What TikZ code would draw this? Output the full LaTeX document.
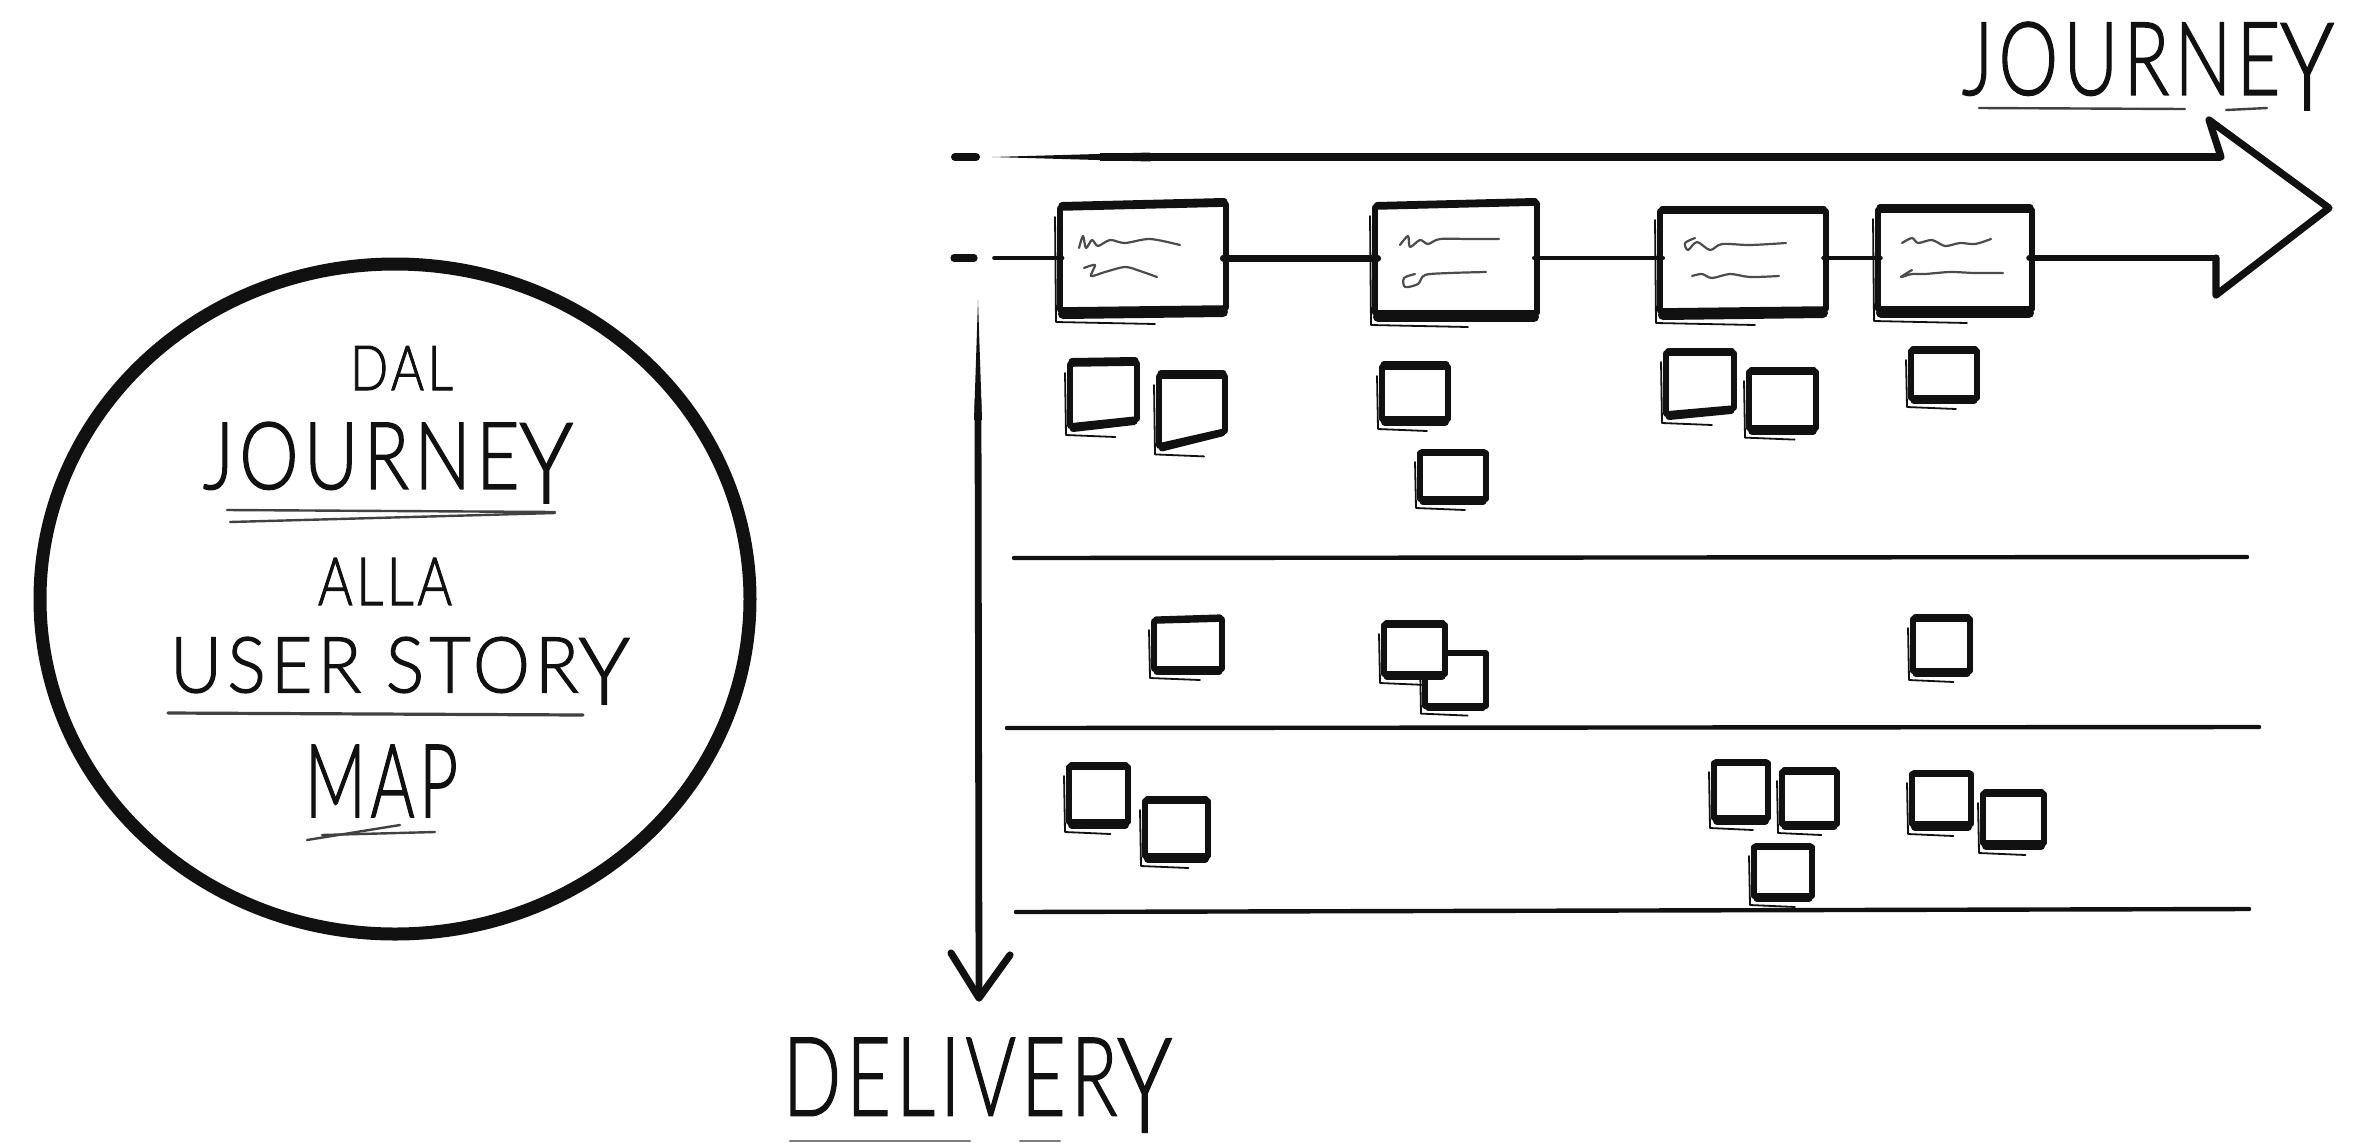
\documentclass[tikz,border=0pt]{standalone}
\usepackage{graphicx}
\usepackage{fontspec}
\usetikzlibrary{shapes.geometric}
\newfontfamily\hand[LetterSpace=7,FakeBold=1.6]{Lato Light}
\definecolor{ink}{HTML}{111111}
\tikzset{
  x=0.5pt,y=-0.5pt,
  ink stroke/.style={draw=ink,line cap=round,line join=round},
  ghost/.style={ink stroke,line width=0.9pt},
  scribble/.style={ink stroke,draw=ink!75,line width=1.1pt},
  label text/.style={inner sep=0pt,outer sep=0pt,text=ink},
  rule line/.style={ink stroke,line width=2.2pt},
  under line/.style={ink stroke,draw=ink!80,line width=1.2pt},
}
% name, inner left, right, top, bottom, top-right rise, bottom-left drop, top w, bottom w (pt; 1pt = 2 picture px)
\newcommand{\sketchbox}[9]{%
  \node[inner sep=0pt,minimum width={(#3-#2)*0.5pt},minimum height={(#5-#4)*0.5pt}] (#1) at ({(#2+#3)/2},{(#4+#5)/2}) {};
  \draw[ink stroke,line width=2.8pt] ({#2-3},{#4-1}) -- ({#3+3},{#4-#6-1}) -- ({#3+3},{#5+1}) -- ({#2-3},{#5+#7+1}) -- cycle;
  \draw[ink stroke,line width=#8pt] ({#2-1},{#4-#8}) -- ({#3+1},{#4-#6-#8});
  \draw[ink stroke,line width=#9pt] ({#2},{#5+#7+#9}) -- ({#3},{#5+#9});
  \draw[ghost] ({#2-8},{#4+8}) -- ({#2-7},{#5+#7+2*#9+3}) -- ({(#2+#3)/2+12},{#5+#7+2*#9+5});
}
% name, left, right, top, bottom, text (bounding box of the lettering)
\newcommand{\lettering}[6]{%
  \node[label text] (#1) at ({(#2+#3)/2},{(#4+#5)/2})
    {\resizebox*{\dimexpr(#3pt-#2pt)/2\relax}{\dimexpr(#5pt-#4pt)/2\relax}{\hand #6}};
}
\newcommand{\lowY}{\raisebox{-0.15em}{\scalebox{1.2}{Y}}}
\begin{document}
\begin{tikzpicture}
\useasboundingbox (0,0) rectangle (2357,1142);
\fill[white] (0,0) rectangle (2357,1142);

% circle with title
\node[draw=ink,line width=6.5pt,ellipse,inner sep=0pt,minimum width=355pt,minimum height=335pt] (circle) at (395,599) {};
\lettering{dal}{350}{453}{346}{390}{DAL}
\lettering{journeyA}{203}{573}{422}{503}{JOURNE\lowY}
\lettering{alla}{318}{452}{558}{605}{ALLA}
\lettering{userstory}{170}{630}{637}{704}{USER STOR\lowY}
\lettering{map}{305}{458}{745}{817}{MAP}
\draw[under line] (227,510) -- (555,512);
\draw[under line] (230,522) -- (555,513);
\draw[under line,line width=1.6pt] (168,713) -- (583,715);
\draw[under line] (307,840) -- (400,825);
\draw[under line] (322,835) -- (435,832);

% labels of the axes
\lettering{journeyB}{1962}{2334}{22}{110}{JOURNE\lowY}
\draw[under line] (1979,108) -- (2185,109);
\draw[under line] (2226,110) -- (2267,108);
\lettering{delivery}{783}{1172}{1038}{1132}{DELIVER\lowY}
\draw[under line,draw=ink!55] (790,1141) -- (970,1141);
\draw[under line,draw=ink!55] (1020,1141) -- (1060,1141);

% activity cards
\sketchbox{cardA}{1063}{1223}{209}{307}{4}{2}{3.5}{5}
\sketchbox{cardB}{1378}{1534}{208}{312}{4}{0}{3}{5}
\sketchbox{cardC}{1663}{1823}{212}{308}{0}{2}{2.8}{5}
\sketchbox{cardD}{1881}{2029}{211}{308}{0}{0}{3.5}{5}

% scribbles on the cards
\draw[scribble] plot[smooth] coordinates {(1079,248) (1083,236) (1086,248) (1092,240) (1098,246) (1110,240) (1125,243) (1150,239) (1180,245)};
\draw[scribble] plot[smooth] coordinates {(1084,268) (1095,265) (1091,276) (1105,272) (1125,267) (1140,271) (1157,277)};
\draw[scribble] plot[smooth] coordinates {(1400,245) (1408,236) (1410,247) (1420,240) (1428,244) (1440,239) (1470,239) (1499,239)};
\draw[scribble] plot[smooth] coordinates {(1415,274) (1404,278) (1405,287) (1418,284) (1425,275) (1450,273) (1486,272)};
\draw[scribble] plot[smooth] coordinates {(1695,238) (1685,243) (1688,250) (1697,242) (1710,250) (1722,244) (1750,245) (1786,243)};
\draw[scribble] plot[smooth] coordinates {(1692,276) (1702,274) (1712,278) (1730,274) (1750,277) (1779,276)};
\draw[scribble] plot[smooth] coordinates {(1902,243) (1912,238) (1918,243) (1932,240) (1945,246) (1960,243) (1975,244) (1991,239)};
\draw[scribble] plot[smooth] coordinates {(1912,270) (1901,277) (1912,274) (1925,274) (1950,272) (1975,273) (2003,273)};

% backbone line and big arrow
\coordinate (topdash) at (955,157);
\coordinate (topdashend) at (976,157);
\coordinate (topstart) at (992,157);
\coordinate (topend) at (2221,157);
\coordinate (barbtop) at (2209,120);
\coordinate (tip) at (2329,208);
\coordinate (barbbottom) at (2216,295);
\coordinate (midend) at (2216,258);
\coordinate (midstart) at (994,258);
\coordinate (middash) at (954,258);
\coordinate (middashend) at (974,258);
\draw[ink stroke,line width=4pt] (topdash) -- (topdashend);
\fill[ink] (topstart) -- (1150,152.5) -- (1150,161.5) -- cycle;
\draw[ink stroke,line width=4.2pt,line cap=butt] (1100,157) -- (topend);
\draw[ink stroke,line width=3.6pt] (topend) -- (barbtop) -- (tip) -- (barbbottom) -- (midend);
\draw[ink stroke,line width=3.6pt] (middash) -- (middashend);
\draw[ink stroke,line width=1.8pt] (midstart) -- (cardA.west |- midstart);
\draw[ink stroke,line width=3.5pt] (cardA.east |- midstart) -- (cardB.west |- midstart);
\draw[ink stroke,line width=2.4pt] (cardB.east |- midstart) -- (cardC.west |- midstart);
\draw[ink stroke,line width=2.2pt] (cardC.east |- midstart) -- (cardD.west |- midstart);
\draw[ink stroke,line width=3.2pt] (cardD.east |- midstart) -- (midend);

% delivery axis
\coordinate (axisstart) at (978,300);
\coordinate (axistip) at (979,998);
\coordinate (axisleft) at (951,953);
\coordinate (axisright) at (1010,955);
\fill[ink] (axisstart) -- (982,420) -- (974,420) -- cycle;
\draw[ink stroke,line width=3.4pt] (978,400) -- (axistip);
\draw[ink stroke,line width=3.6pt] (axisleft) -- (axistip) -- (axisright);

% release lines
\draw[rule line] (1014,558) -- (2247,557);
\draw[rule line] (1007,728) -- (2259,727);
\draw[rule line] (1016,912) -- (2249,909);

% stories (s10 lies behind s9)
\sketchbox{s1}{1073}{1134}{365}{418}{1}{7}{3.5}{3.5}
\sketchbox{s2}{1162}{1222}{377}{430}{0}{15}{3.5}{3.2}
\sketchbox{s3}{1385}{1445}{368}{418}{0}{0}{3.5}{4}
\sketchbox{s4}{1423}{1483}{454}{498}{0}{0}{2.5}{3.5}
\sketchbox{s5}{1669}{1731}{354}{407}{0}{6}{2.8}{3.5}
\sketchbox{s6}{1752}{1813}{373}{427}{0}{0}{2.8}{3.8}
\sketchbox{s7}{1914}{1974}{352}{397}{0}{0}{3.2}{3.5}
\sketchbox{s8}{1157}{1219}{622}{668}{2}{0}{2.8}{3.5}
\sketchbox{s10}{1428}{1483}{654}{705}{0}{0}{2}{2.8}
\node[fill=white,inner sep=0pt,minimum width=27.5pt,minimum height=23.5pt] (s9back) at (1414.5,649.5) {};
\sketchbox{s9}{1387}{1442}{626}{673}{0}{0}{2.8}{3.5}
\sketchbox{s11}{1916}{1967}{620}{670}{0}{0}{2.8}{3.5}
\sketchbox{s12}{1072}{1125}{768}{821}{0}{0}{2.8}{4}
\sketchbox{s13}{1148}{1205}{802}{855}{0}{0}{2.8}{4}
\sketchbox{s14}{1717}{1765}{764}{817}{0}{0}{2.5}{4}
\sketchbox{s15}{1785}{1834}{773}{823}{0}{0}{2.8}{3.5}
\sketchbox{s16}{1757}{1809}{848}{895}{0}{0}{2.5}{3.5}
\sketchbox{s17}{1915}{1968}{775}{823}{0}{0}{2.5}{4}
\sketchbox{s18}{1986}{2041}{795}{842}{0}{0}{2.8}{4}
\end{tikzpicture}
\end{document}
